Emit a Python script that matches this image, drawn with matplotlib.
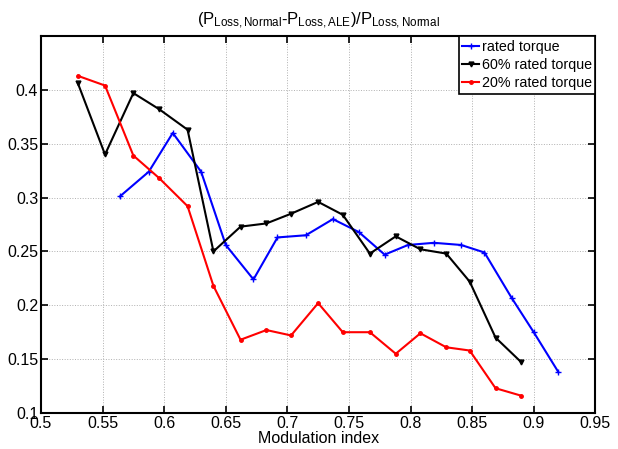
import matplotlib.pyplot as plt
import numpy as np

plt.rcParams['font.family'] = ['Liberation Sans', 'DejaVu Sans']
plt.rcParams['mathtext.fontset'] = 'custom'
plt.rcParams['mathtext.rm'] = 'Liberation Sans'
plt.rcParams['mathtext.it'] = 'Liberation Sans'

# rated torque
x_rated = [0.564, 0.5875, 0.607, 0.630, 0.650, 0.6725, 0.692, 0.715, 0.737,
           0.758, 0.779, 0.798, 0.819, 0.841, 0.860, 0.882, 0.900, 0.920]
y_rated = [0.301, 0.324, 0.360, 0.324, 0.256, 0.224, 0.263, 0.265, 0.280,
           0.268, 0.247, 0.256, 0.258, 0.256, 0.249, 0.207, 0.175, 0.138]

# 60% and 20% rated torque share the same modulation indices
x_part = [0.530, 0.552, 0.575, 0.596, 0.619, 0.640, 0.662, 0.683, 0.703,
          0.725, 0.745, 0.767, 0.788, 0.808, 0.829, 0.848, 0.869, 0.890]
y_60 = [0.406, 0.340, 0.397, 0.382, 0.363, 0.250, 0.273, 0.276, 0.285,
        0.296, 0.284, 0.248, 0.264, 0.252, 0.248, 0.222, 0.170, 0.147]
y_20 = [0.413, 0.404, 0.339, 0.318, 0.292, 0.218, 0.168, 0.177, 0.172,
        0.202, 0.175, 0.175, 0.155, 0.174, 0.161, 0.158, 0.123, 0.116]

labels = ['rated torque', '60% rated torque', '20% rated torque']

fig = plt.figure(figsize=(6.18, 4.49), dpi=100)
ax = fig.add_axes([0.0663, 0.0802, 0.897, 0.8396])

ax.plot(x_rated, y_rated, color='blue', marker='+', markersize=4, lw=1.5, label=labels[0])
ax.plot(x_part, y_60, color='black', marker='v', markersize=3.5, lw=1.5, label=labels[1])
ax.plot(x_part, y_20, color='red', marker='.', markersize=5, lw=1.5, label=labels[2])

ax.set_xlim(0.5, 0.95)
ax.set_ylim(0.1, 0.45)
ax.set_xticks(np.arange(0.5, 0.951, 0.05))
ax.set_xticklabels(['0.5', '0.55', '0.6', '0.65', '0.7', '0.75', '0.8', '0.85', '0.9', '0.95'])
ax.set_yticks([0.1, 0.15, 0.2, 0.25, 0.3, 0.35, 0.4])
ax.set_yticklabels(['0.1', '0.15', '0.2', '0.25', '0.3', '0.35', '0.4'])
ax.tick_params(direction='in', top=True, right=True, labelsize=11.5, length=5, width=1.2, pad=2)
ax.grid(True, linestyle=':', color='#b0b0b0', linewidth=0.7)
for s in ax.spines.values():
    s.set_linewidth(1.5)

ax.set_xlabel('Modulation index', fontsize=11.5, labelpad=0)
ax.set_title(r'$(P_{\mathrm{Loss,Normal}}$-$P_{\mathrm{Loss,ALE}})/P_{\mathrm{Loss,Normal}}$',
             fontsize=12, pad=8)

leg = ax.legend(loc='upper right', fontsize=10.3, frameon=True, fancybox=False,
                framealpha=1, edgecolor='black', handlelength=1.2, handletextpad=0.15,
                borderpad=0.25, labelspacing=0.3, borderaxespad=0)
leg.get_frame().set_linewidth(1.2)

fig.savefig('out.png', dpi=100)
